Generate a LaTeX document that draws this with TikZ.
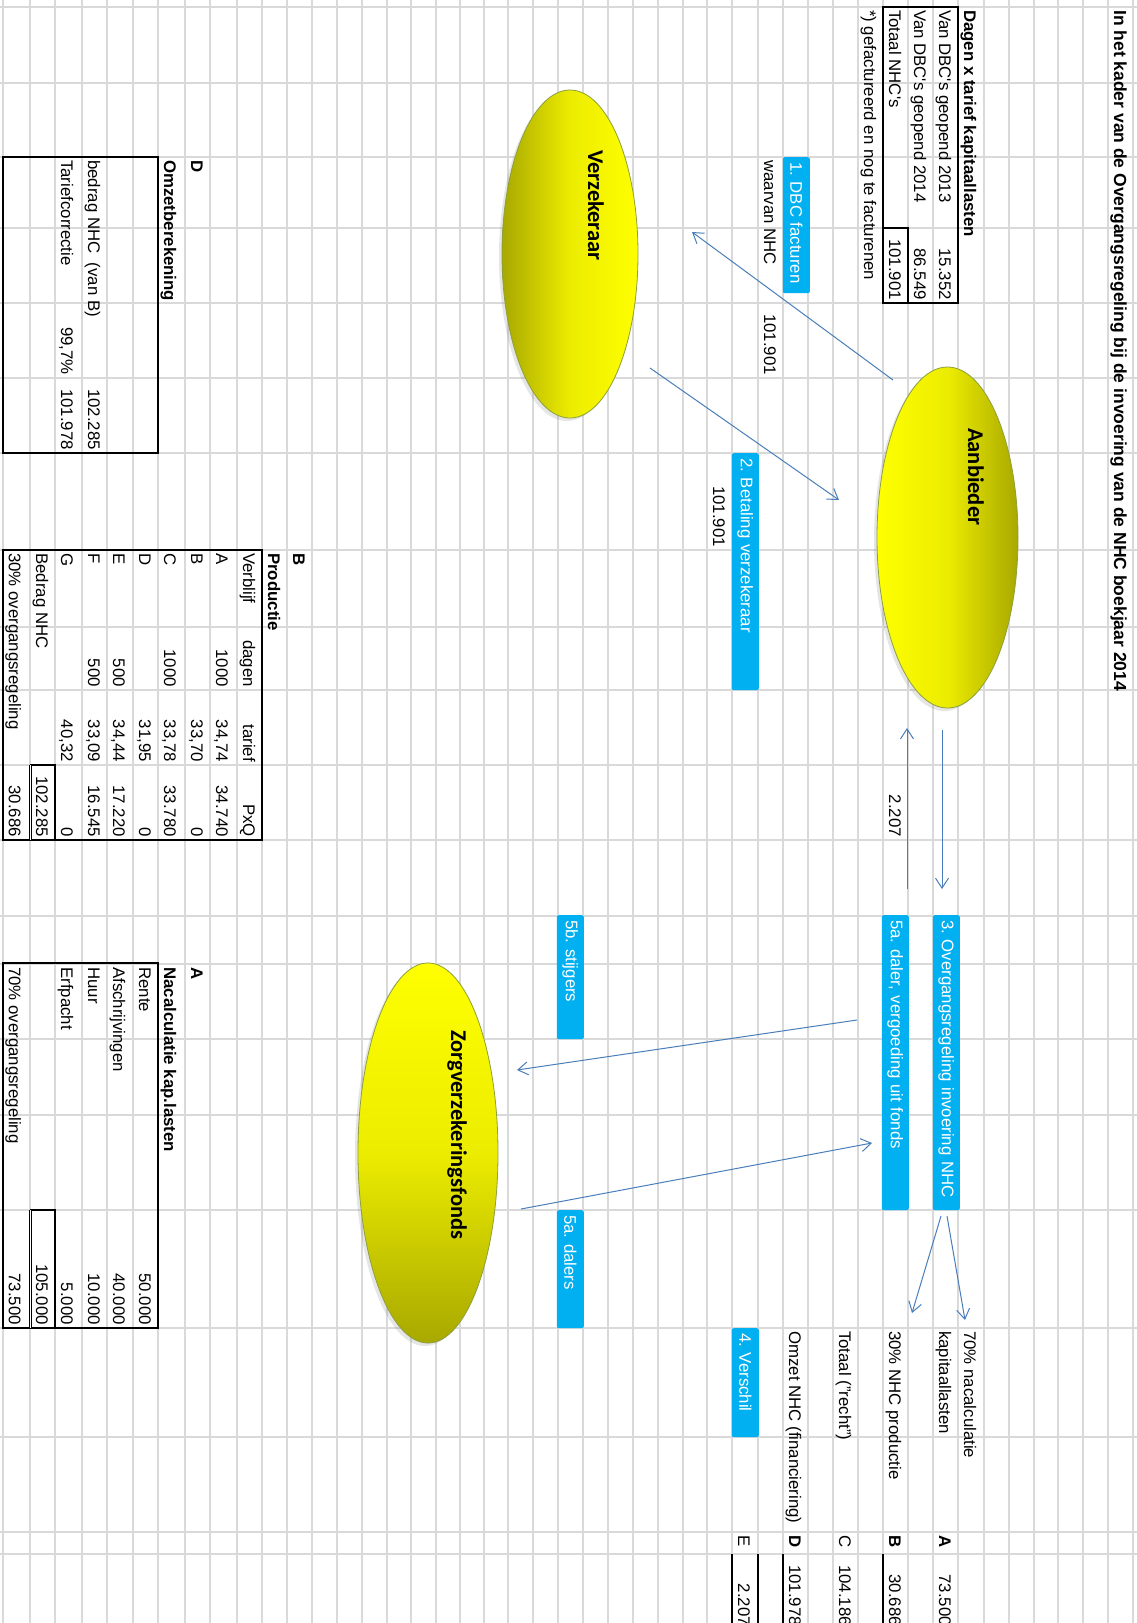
\documentclass[tikz,border=0pt]{standalone}
\usepackage{fontspec}
\setmainfont{Liberation Sans}
\newfontfamily\shapefont{Carlito}
\usepackage{tikz}
\usetikzlibrary{positioning, shapes.geometric, arrows.meta, shadows}
\frenchspacing

\definecolor{gridgray}{RGB}{217,217,217}
\definecolor{boxblue}{RGB}{0,176,240}
\definecolor{arrowblue}{RGB}{74,126,187}
\definecolor{olivedark}{RGB}{168,168,0}
\definecolor{olivemid}{RGB}{236,236,0}
\definecolor{ellipseedge}{RGB}{140,160,60}

\begin{document}
\begin{tikzpicture}[x=1pt, y=-1pt,
    every node/.style={inner sep=0pt, font=\fontsize{16.8}{19}\selectfont},
    celltxt/.style={rotate=-90, anchor=base west},
    cellnum/.style={rotate=-90, anchor=base east},
    headtxt/.style={rotate=-90, anchor=base west, font=\fontsize{16.8}{19}\selectfont\bfseries},
    bluebox/.style={rectangle, fill=boxblue, rounded corners=2pt, text=white, rotate=-90, anchor=north west, minimum height=27pt, inner xsep=5pt, align=left},
    actor/.style={ellipse, draw=ellipseedge, line width=0.8pt, drop shadow={shadow xshift=-3pt, shadow yshift=-3pt, opacity=0.2}},
    actortxt/.style={rotate=-90, anchor=base west, font=\shapefont\fontsize{22.5}{26}\selectfont\bfseries},
    flow/.style={->, draw=arrowblue, line width=1pt},
    >={Straight Barb[length=10pt, width=13pt]},
    frame/.style={line width=1.5pt}]
    \useasboundingbox (0,0) rectangle (1137,1623);
    \clip (0,0) rectangle (1137,1623);
    \fill[white] (0,0) rectangle (1137,1623);
    % Grid of the sheet
    \foreach \gx in {3,30,55,82,107,133,158,185,210,237,262,287,312,337,362,387,411,436,460,484,508,533,558,583,608,633,658,683,707,732,758,783,808,833,858,883,908,933,958,984,1009,1034,1058,1083,1108,1133}
        \draw[gridgray, line width=1.2pt] (\gx,0) -- (\gx,1623);
    \foreach \gy in {7,83,157,228,303,378,453,550,627,690,765,840,916,964,1039,1115,1210,1328,1437,1532,1554}
        \draw[gridgray, line width=1.2pt] (0,\gy) -- (1137,\gy);
    % Table frames
    \draw[frame] (883,7) rectangle (958,303);
    \draw[frame] (883,228) -- (908,228) -- (908,303);
    \draw[frame] (3,157) rectangle (158,453);
    \draw[frame] (3,550) rectangle (262,840);
    \draw[frame] (30,765) -- (55,765) -- (55,840);
    \draw[double, double distance=1.2pt, line width=0.7pt] (30.5,765) -- (30.5,840);
    \draw[frame] (3,963) rectangle (158,1328);
    \draw[frame] (30,1210) -- (55,1210) -- (55,1328);
    \draw[double, double distance=1.2pt, line width=0.7pt] (30.5,1210) -- (30.5,1328);
    \draw[line width=2pt] (883,1554) -- (883,1623);
    \draw[line width=2pt] (783,1554) -- (783,1623);
    \draw[line width=2pt] (758,1554) -- (758,1623);
    \draw[line width=2pt] (732,1554) -- (732,1623);
    % Actors
    \node[actor, minimum width=141pt, minimum height=341pt, left color=yellow, right color=olivedark, middle color=olivemid] (aanbieder) at (947.5,537.5) {};
    \node[actor, minimum width=136pt, minimum height=328pt, left color=olivedark, right color=yellow, middle color=olivemid] (verzekeraar) at (570,254) {};
    \node[actor, minimum width=140pt, minimum height=380pt, top color=yellow, bottom color=olivedark, middle color=olivemid] (fonds) at (428,1153) {};
    \node[actortxt] (aanbiedertxt) at (968,428) {Aanbieder};
    \node[actortxt] (verzekeraartxt) at (588,150) {Verzekeraar};
    \node[actortxt] (fondstxt) at (451,1030) {Zorgverzekeringsfonds};
    % Steps
    \node[bluebox, text width=126pt] (dbcbox) at (810,157) {1. DBC facturen};
    \node[bluebox, text width=227pt] (betalingbox) at (759,453) {2. Betaling verzekeraar};
    \node[bluebox, text width=285pt] (overgangbox) at (960,915) {3. Overgangsregeling invoering NHC};
    \node[bluebox, text width=285pt] (dalerbox) at (909,915) {5a. daler, vergoeding uit fonds};
    \node[bluebox, text width=114pt] (stijgerbox) at (584,915) {5b. stijgers};
    \node[bluebox, text width=108pt] (dalersbox) at (584,1210) {5a. dalers};
    \node[bluebox, text width=99pt] (verschilbox) at (759,1328) {4. Verschil};
    % Heading and invoices
    \node[headtxt, font=\fontsize{17.5}{20}\selectfont\bfseries] (title) at (1114,10) {In het kader van de Overgangsregeling bij de invoering van de NHC boekjaar 2014};
    \node[headtxt] (dagenhead) at (964,10) {Dagen x tarief kapitaallasten};
    \node[celltxt] (dbc13) at (939,10) {Van DBC\textquotesingle s geopend 2013};
    \node[cellnum] (dbc13val) at (939,300) {15.352};
    \node[celltxt] (dbc14) at (914,10) {Van DBC\textquotesingle s geopend 2014};
    \node[cellnum] (dbc14val) at (914,300) {86.549};
    \node[celltxt] (nhctot) at (889,10) {Totaal NHC\textquotesingle s};
    \node[cellnum] (nhctotval) at (889,300) {101.901};
    \node[celltxt] (footnote) at (864,10) {*) gefactureerd en nog te facturenen};
    \node[celltxt] (waarvan) at (764,160) {waarvan NHC};
    \node[cellnum] (waarvanval) at (764,375) {101.901};
    \node[cellnum] (betalingval) at (713,547) {101.901};
    \node[cellnum] (verschillbl) at (889,837) {2.207};
    % Summary A-E
    \node[celltxt] (nacalc) at (964,1331) {70\% nacalculatie};
    \node[celltxt] (kaplast) at (939,1331) {kapitaallasten};
    \node[headtxt] (sumletA) at (939,1535) {A};
    \node[cellnum] (sumvalA) at (939,1626) {73.500};
    \node[celltxt] (nhcprod) at (889,1331) {30\% NHC productie};
    \node[headtxt] (sumletB) at (889,1535) {B};
    \node[cellnum] (sumvalB) at (889,1626) {30.686};
    \node[celltxt] (recht) at (839,1331) {Totaal ("recht")};
    \node[celltxt] (sumletC) at (839,1535) {C};
    \node[cellnum] (sumvalC) at (839,1626) {104.186};
    \node[celltxt] (omzet) at (789,1331) {Omzet NHC (financiering)};
    \node[headtxt] (sumletD) at (789,1535) {D};
    \node[cellnum] (sumvalD) at (789,1626) {101.978};
    \node[celltxt] (sumletE) at (738,1535) {E};
    \node[cellnum] (sumvalE) at (738,1626) {2.207};
    % Table D
    \node[headtxt] (omzetlet) at (191,160) {D};
    \node[headtxt] (omzethead) at (164,160) {Omzetberekening};
    \node[celltxt] (bedragvanb) at (88,160) {bedrag NHC\ \ (van B)};
    \node[cellnum] (bedragvanbval) at (88,450) {102.285};
    \node[celltxt] (tariefcor) at (61,160) {Tariefcorrectie};
    \node[cellnum] (tariefpct) at (61,375) {99,7\%};
    \node[cellnum] (tariefval) at (61,450) {101.978};
    % Table B
    \node[headtxt] (prodlet) at (293,553) {B};
    \node[headtxt] (prodhead) at (268,553) {Productie};
    \node[celltxt] (verblijf) at (243,553) {Verblijf};
    \node[cellnum] (dagenkop) at (243,687) {dagen};
    \node[cellnum] (tariefkop) at (243,762) {tarief};
    \node[cellnum] (pxqkop) at (243,837) {PxQ};
    \node[celltxt] (prodA) at (216,553) {A};
    \node[cellnum] (dagenA) at (216,687) {1000};
    \node[cellnum] (tariefA) at (216,762) {34,74};
    \node[cellnum] (pxqA) at (216,837) {34.740};
    \node[celltxt] (prodB) at (191,553) {B};
    \node[cellnum] (tariefB) at (191,762) {33,70};
    \node[cellnum] (pxqB) at (191,837) {0};
    \node[celltxt] (prodC) at (164,553) {C};
    \node[cellnum] (dagenC) at (164,687) {1000};
    \node[cellnum] (tariefC) at (164,762) {33,78};
    \node[cellnum] (pxqC) at (164,837) {33.780};
    \node[celltxt] (prodD) at (139,553) {D};
    \node[cellnum] (tariefD) at (139,762) {31,95};
    \node[cellnum] (pxqD) at (139,837) {0};
    \node[celltxt] (prodE) at (113,553) {E};
    \node[cellnum] (dagenE) at (113,687) {500};
    \node[cellnum] (tariefE) at (113,762) {34,44};
    \node[cellnum] (pxqE) at (113,837) {17.220};
    \node[celltxt] (prodF) at (88,553) {F};
    \node[cellnum] (dagenF) at (88,687) {500};
    \node[cellnum] (tariefF) at (88,762) {33,09};
    \node[cellnum] (pxqF) at (88,837) {16.545};
    \node[celltxt] (prodG) at (61,553) {G};
    \node[cellnum] (tariefG) at (61,762) {40,32};
    \node[cellnum] (pxqG) at (61,837) {0};
    \node[celltxt] (bedragnhc) at (36,553) {Bedrag NHC};
    \node[cellnum] (bedragnhcval) at (36,837) {102.285};
    \node[celltxt] (prod30) at (9,553) {30\% overgangsregeling};
    \node[cellnum] (prod30val) at (9,837) {30.686};
    % Table A
    \node[headtxt] (nacalclet) at (191,967) {A};
    \node[headtxt] (nacalchead) at (164,967) {Nacalculatie kap.lasten};
    \node[celltxt] (rente) at (139,967) {Rente};
    \node[cellnum] (renteval) at (139,1325) {50.000};
    \node[celltxt] (afschr) at (113,967) {Afschrijvingen};
    \node[cellnum] (afschrval) at (113,1325) {40.000};
    \node[celltxt] (huur) at (88,967) {Huur};
    \node[cellnum] (huurval) at (88,1325) {10.000};
    \node[celltxt] (erfpacht) at (61,967) {Erfpacht};
    \node[cellnum] (erfpachtval) at (61,1325) {5.000};
    \node[cellnum] (nacalctot) at (36,1325) {105.000};
    \node[celltxt] (nacalc70) at (9,967) {70\% overgangsregeling};
    \node[cellnum] (nacalc70val) at (9,1325) {73.500};
    % Arrows
    \coordinate (dbcfrom) at (893,380);
    \coordinate (dbcto) at (692,232);
    \coordinate (betfrom) at (650,368);
    \coordinate (betto) at (839,500);
    \coordinate (ovgfrom) at (942,730);
    \coordinate (ovgto) at (942,889);
    \coordinate (verfrom) at (907,889);
    \coordinate (verto) at (907,728);
    \coordinate (stijgfrom) at (857,1020);
    \coordinate (stijgto) at (517,1070);
    \coordinate (daalfrom) at (521,1209);
    \coordinate (daalto) at (872,1143);
    \coordinate (splitl) at (941,1216);
    \coordinate (splitr) at (947,1216);
    \coordinate (prodto) at (912,1313);
    \coordinate (nacalcto) at (965,1320);
    \draw[flow] (dbcfrom) -- (dbcto);
    \draw[flow] (betfrom) -- (betto);
    \draw[flow] (ovgfrom) -- (ovgto);
    \draw[flow] (verfrom) -- (verto);
    \draw[flow] (stijgfrom) -- (stijgto);
    \draw[flow] (daalfrom) -- (daalto);
    \draw[flow] (splitl) -- (prodto);
    \draw[flow] (splitr) -- (nacalcto);
\end{tikzpicture}
\end{document}
